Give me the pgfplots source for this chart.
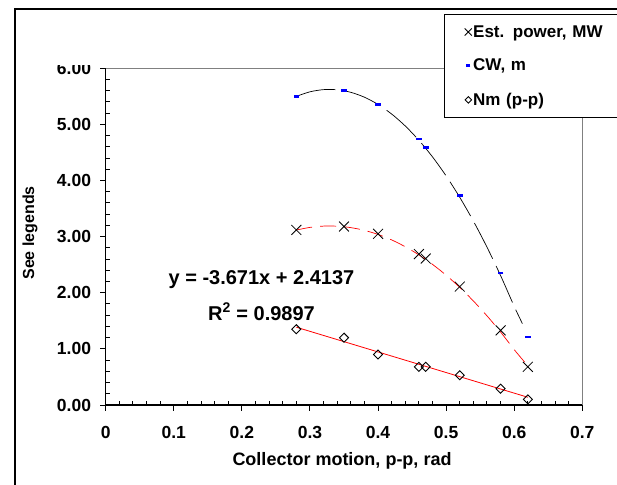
\documentclass[border=0pt]{standalone}
\usepackage{fontspec}
\setmainfont{Liberation Sans}
\usepackage{pgfplots}
\pgfplotsset{compat=1.18}
\definecolor{cwblue}{RGB}{0,0,255}
\definecolor{trendred}{RGB}{255,0,0}
\definecolor{areagray}{RGB}{128,128,128}

\pgfplotstableread{
x     y
0.28  3.12
0.35  3.18
0.40  3.05
0.46  2.69
0.47  2.61
0.52  2.11
0.58  1.33
0.62  0.68
}\powertable

\pgfplotstableread{
x     y
0.28  5.50
0.35  5.60
0.40  5.35
0.46  4.74
0.47  4.59
0.52  3.73
0.58  2.35
0.62  1.21
}\cwtable

\pgfplotstableread{
x     y
0.28  1.35
0.35  1.20
0.40  0.90
0.46  0.68
0.47  0.68
0.52  0.53
0.58  0.29
0.62  0.10
}\nmtable

\begin{document}
\begin{tikzpicture}[x=1pt,y=1pt]
\useasboundingbox (0,0) rectangle (617,484);
\clip (0,0) rectangle (617,484);
\fill[white] (0,0) rectangle (617,484);
\draw[line width=1.5pt] (15,-5) -- (15,475) -- (630,475);
\begin{axis}[
  at={(105.7pt,79pt)}, anchor=south west,
  scale only axis, width=476.6pt, height=336.7pt,
  xmin=0, xmax=0.7, ymin=0, ymax=6,
  axis x line*=bottom, axis y line*=left,
  axis line style={black, line width=1.2pt, -},
  xtick={0,0.1,0.2,0.3,0.4,0.5,0.6,0.7},
  ytick={0,1,2,3,4,5,6},
  minor x tick num=4, minor y tick num=4,
  tick align=inside,
  major tick length=5.7pt, minor tick length=4pt,
  every tick/.style={black, line width=1pt},
  every major x tick/.append style={yshift=-5.7pt},
  every major y tick/.append style={xshift=-5.7pt},
  /pgf/number format/assume math mode=true,
  xticklabel style={font=\fontsize{17.5}{17.5}\selectfont\bfseries, inner sep=0pt, yshift=-21pt},
  yticklabel style={font=\fontsize{17.5}{17.5}\selectfont\bfseries, inner sep=0pt, xshift=-14.5pt,
    /pgf/number format/fixed, /pgf/number format/fixed zerofill, /pgf/number format/precision=2},
  xticklabel={\pgfmathprintnumber[fixed,precision=1]{\tick}},
  xlabel={Collector motion, p-p, rad},
  ylabel={See legends},
  every axis x label/.style={at={(axis description cs:0.4958,-0.1645)}, anchor=center, font=\fontsize{18}{18}\selectfont\bfseries},
  every axis y label/.style={at={(axis description cs:-0.1588,0.511)}, anchor=center, rotate=90, font=\fontsize{16}{16}\selectfont\bfseries},
  legend style={at={(axis description cs:0.7098,1.1613)}, anchor=north west,
    draw=black, line width=0.8pt, fill=white,
    font=\fontsize{17}{17}\selectfont\bfseries,
    row sep=18.5pt, inner xsep=13pt, inner ysep=10pt,
    nodes={text width=160pt, align=left, inner sep=1pt}},
  legend cell align=left,
  legend image code/.code={\draw[#1, every mark/.append style={scale=0.72}] plot coordinates {(10.5pt,0pt)};
    \path (0pt,0pt) (14pt,0pt);},
  clip=false,
]
% plot area border (top, right)
\draw[areagray, line width=0.8pt] (axis cs:0,6) -- (axis cs:0.7,6) -- (axis cs:0.7,0);

% trendlines
\addplot[forget plot, black, line width=0.7pt, dash pattern=on 40pt off 8pt, smooth] coordinates {
(0.28,5.500) (0.30,5.581) (0.32,5.620) (0.34,5.617) (0.36,5.572) (0.38,5.485)
(0.40,5.356) (0.42,5.185) (0.44,4.972) (0.46,4.717) (0.48,4.421) (0.50,4.082)
(0.52,3.701) (0.54,3.278) (0.56,2.813) (0.58,2.306) (0.60,1.757) (0.612,1.45)};
\addplot[forget plot, trendred, line width=0.7pt, dash pattern=on 16pt off 8pt, smooth] coordinates {
(0.28,3.118) (0.30,3.165) (0.32,3.188) (0.34,3.186) (0.36,3.161) (0.38,3.112)
(0.40,3.039) (0.42,2.942) (0.44,2.820) (0.46,2.675) (0.48,2.506) (0.50,2.313)
(0.52,2.096) (0.54,1.854) (0.56,1.589) (0.58,1.300) (0.60,0.987) (0.617,0.74)};
\addplot[forget plot, trendred, line width=0.8pt] coordinates {(0.28,1.386) (0.62,0.138)};

% data series
\addplot[only marks, mark=x, mark size=7pt, mark options={black, line width=0.8pt}] table[x=x,y=y] {\powertable};
\addlegendentry{Est. power, MW}
\addplot[only marks, mark=-, mark size=2.8pt, mark options={cwblue, line width=2.6pt}] table[x=x,y=y] {\cwtable};
\addlegendentry{CW, m}
\addplot[only marks, mark=square, mark size=3.2pt, mark options={black, rotate=45, line width=0.9pt, fill=white}] table[x=x,y=y] {\nmtable};
\addlegendentry{Nm (p-p)}

\node[font=\fontsize{20}{20}\selectfont\bfseries, anchor=center] at (axis cs:0.2288,2.227) {y = -3.671x + 2.4137};
\node[font=\fontsize{20}{20}\selectfont\bfseries, anchor=center] at (axis cs:0.2288,1.663) {R\textsuperscript{2} = 0.9897};
\end{axis}
\fill[white] (50,419) rectangle (103,470);
\end{tikzpicture}
\end{document}
